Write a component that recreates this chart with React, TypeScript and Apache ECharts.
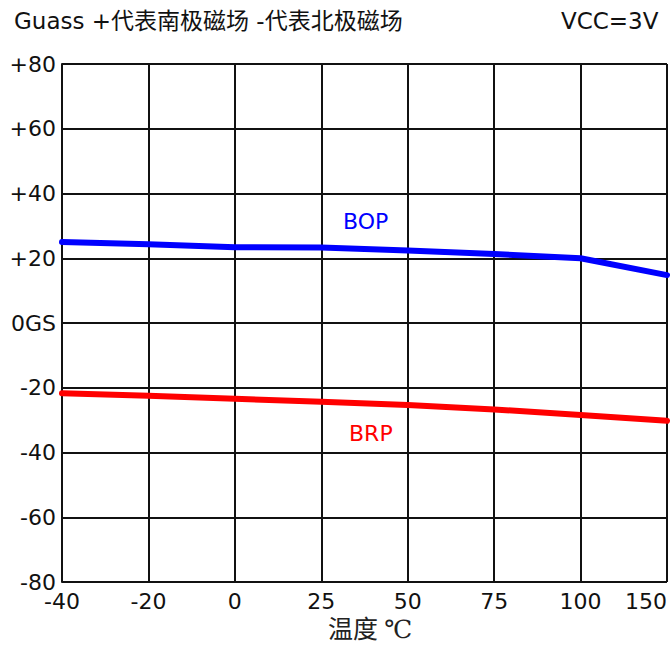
import React, { useEffect, useRef } from "react";
import * as echarts from "echarts";

const temps = ["-40", "-20", "0", "25", "50", "75", "100", "150"];
const bop = [25, 24.3, 23.4, 23.3, 22.4, 21.3, 20, 14.8];
const brp = [-21.7, -22.5, -23.4, -24.3, -25.3, -26.7, -28.4, -30.2];

const titleText = "Guass +代表南极磁场 -代表北极磁场";
const vccText = "VCC=3V";
const xName = "温度 ℃";

const SANS = "Verdana, 'DejaVu Sans', 'Noto Sans CJK SC', sans-serif";
const SERIF = "'Liberation Serif', 'DejaVu Serif', 'Noto Sans CJK SC', serif";

export default function App() {
  const ref = useRef<HTMLDivElement>(null);
  useEffect(() => {
    if (!ref.current) return;
    const chart = echarts.init(ref.current, undefined, { renderer: "svg" });
    chart.setOption({
      animation: false,
      backgroundColor: "#ffffff",
      grid: { left: 62, right: 4, top: 64, bottom: 63, containLabel: false },
      xAxis: {
        type: "category",
        data: temps,
        boundaryGap: false,
        axisLine: { show: true, lineStyle: { color: "#111", width: 2 } },
        axisTick: { show: false },
        splitLine: { show: true, lineStyle: { color: "#111", width: 2 } },
        axisLabel: {
          color: "#111",
          fontSize: 22,
          fontFamily: SANS,
          margin: 8,
          alignMaxLabel: "right",
        },
      },
      yAxis: {
        type: "value",
        min: -80,
        max: 80,
        interval: 20,
        axisLine: { show: true, lineStyle: { color: "#111", width: 2 } },
        axisTick: { show: false },
        splitLine: { show: true, lineStyle: { color: "#111", width: 2 } },
        axisLabel: {
          color: "#111",
          fontSize: 22,
          fontFamily: SANS,
          margin: 6,
          formatter: (v: number) => (v > 0 ? "+" + v : v === 0 ? "0GS" : String(v)),
        },
      },
      graphic: [
        {
          type: "text",
          left: 14,
          top: 9,
          style: { text: titleText, fontSize: 23, fontFamily: SANS, fill: "#111" },
        },
        {
          type: "text",
          left: 561,
          top: 9,
          style: { text: vccText, fontSize: 23, fontFamily: SANS, fill: "#111" },
        },
        {
          type: "text",
          left: 328,
          top: 617,
          style: { text: xName, fontSize: 25, fontFamily: SERIF, fill: "#222" },
        },
        {
          type: "text",
          left: 343,
          top: 210,
          style: { text: "BOP", fontSize: 22, fontFamily: SANS, fill: "#0000ff" },
        },
        {
          type: "text",
          left: 349,
          top: 422,
          style: { text: "BRP", fontSize: 22, fontFamily: SANS, fill: "#ff0000" },
        },
      ],
      series: [
        {
          name: "BOP",
          type: "line",
          data: bop,
          symbol: "none",
          lineStyle: { color: "#0000ff", width: 6, cap: "round" },
        },
        {
          name: "BRP",
          type: "line",
          data: brp,
          symbol: "none",
          lineStyle: { color: "#ff0000", width: 6, cap: "round" },
        },
      ],
    });
    return () => chart.dispose();
  }, []);
  return (
    <div
      ref={ref}
      style={{ position: "absolute", left: 0, top: 0, width: 671, height: 645 }}
    />
  );
}
